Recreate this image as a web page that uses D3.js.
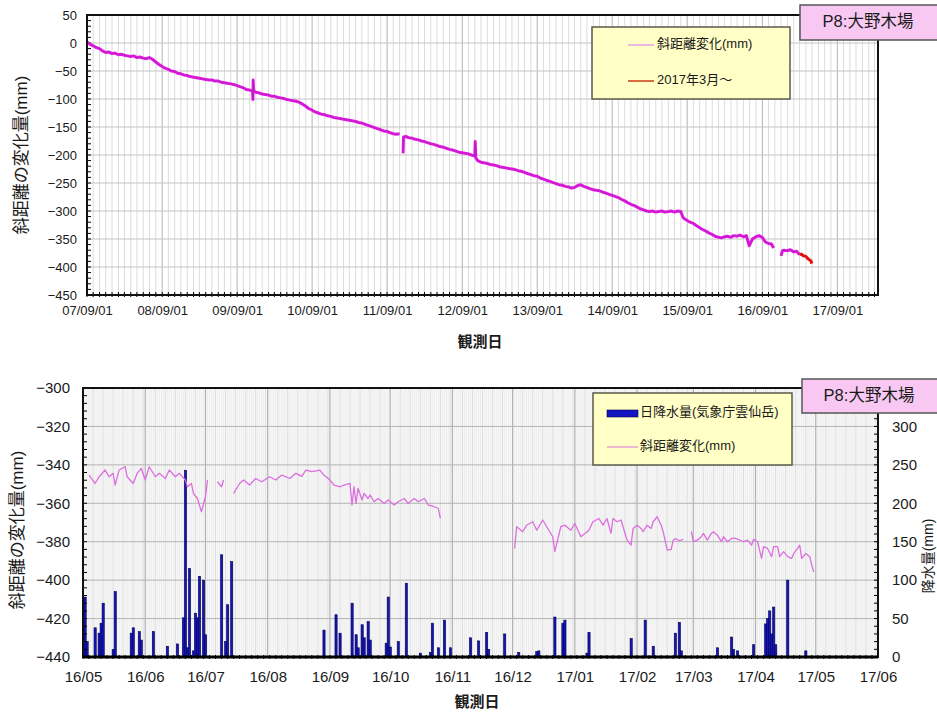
<!DOCTYPE html>
<html><head><meta charset="utf-8">
<script src="https://cdn.jsdelivr.net/npm/d3@7"></script>
<style>
body{margin:0;background:#fff}
text{font-family:"Liberation Sans","Noto Sans CJK JP",sans-serif;fill:#1a1a1a}
</style>
</head><body>
<svg id="c" width="937" height="713"></svg>
<script>
// ---------------- DATA ----------------
const topTickLabels = ["2007-09-01","2008-09-01","2009-09-01","2010-09-01","2011-09-01","2012-09-01","2013-09-01","2014-09-01","2015-09-01","2016-09-01","2017-09-01"];
const topYTicks = [50,0,-50,-100,-150,-200,-250,-300,-350,-400,-450];
// 斜距離変化(mm) long-term record
const topSeries = [
["2007-09-01",2],["2007-09-15",-2],["2007-10-01",-5],["2007-10-15",-8],["2007-11-01",-10],["2007-11-15",-14],["2007-12-01",-17],["2007-12-15",-16],
["2008-01-01",-19],["2008-01-15",-18],["2008-02-01",-21],["2008-02-15",-20],["2008-03-01",-22],["2008-03-15",-23],["2008-04-01",-24],["2008-04-15",-23],
["2008-05-01",-26],["2008-05-15",-25],["2008-06-01",-27],["2008-06-15",-28],["2008-07-01",-26],["2008-07-15",-29],["2008-08-01",-34],["2008-08-15",-38],
["2008-09-01",-42],["2008-09-15",-45],["2008-10-01",-47],["2008-10-15",-50],["2008-11-01",-51],["2008-11-15",-54],["2008-12-01",-55],["2008-12-15",-57],
["2009-01-01",-58],["2009-01-15",-60],["2009-02-01",-61],["2009-02-15",-62],["2009-03-01",-63],["2009-03-15",-64],["2009-04-01",-65],["2009-04-15",-66],
["2009-05-01",-66],["2009-05-15",-68],["2009-06-01",-68],["2009-06-15",-70],["2009-07-01",-71],["2009-07-15",-72],["2009-08-01",-73],["2009-08-15",-74],
["2009-09-01",-76],["2009-09-15",-78],["2009-10-01",-80],["2009-10-15",-83],["2009-11-01",-84],["2009-11-15",-86],["2009-11-17",-101],["2009-11-18",-66],["2009-11-20",-85],
["2009-12-01",-88],["2009-12-15",-89],["2010-01-01",-91],["2010-01-15",-92],["2010-02-01",-93],["2010-02-15",-95],["2010-03-01",-95],["2010-03-15",-97],
["2010-04-01",-98],["2010-04-15",-99],["2010-05-01",-101],["2010-05-15",-102],["2010-06-01",-103],["2010-06-15",-104],["2010-07-01",-106],["2010-07-15",-109],
["2010-08-01",-113],["2010-08-15",-117],["2010-09-01",-120],["2010-09-15",-123],["2010-10-01",-125],["2010-10-15",-127],["2010-11-01",-128],["2010-11-15",-130],
["2010-12-01",-131],["2010-12-15",-133],["2011-01-01",-134],["2011-01-15",-135],["2011-02-01",-136],["2011-02-15",-137],["2011-03-01",-138],["2011-03-15",-139],
["2011-04-01",-140],["2011-04-15",-142],["2011-05-01",-143],["2011-05-15",-145],["2011-06-01",-147],["2011-06-15",-149],["2011-07-01",-151],["2011-07-15",-153],
["2011-08-01",-155],["2011-08-15",-157],["2011-09-01",-158],["2011-09-15",-160],["2011-10-01",-162],["2011-10-15",-163],["2011-11-01",-162],["2011-11-08",null],
["2011-11-18",-197],["2011-11-20",-168],["2011-12-01",-167],["2011-12-15",-169],
["2012-01-01",-170],["2012-01-15",-172],["2012-02-01",-173],["2012-02-15",-175],["2012-03-01",-176],["2012-03-15",-178],["2012-04-01",-180],["2012-04-15",-181],
["2012-05-01",-183],["2012-05-15",-185],["2012-06-01",-186],["2012-06-15",-188],["2012-07-01",-190],["2012-07-15",-191],["2012-08-01",-193],["2012-08-15",-195],
["2012-09-01",-196],["2012-09-15",-197],["2012-10-01",-198],["2012-10-15",-200],["2012-11-01",-202],["2012-11-03",-176],["2012-11-06",-205],["2012-11-15",-210],
["2012-12-01",-213],["2012-12-15",-214],["2013-01-01",-215],["2013-01-15",-217],["2013-02-01",-218],["2013-02-15",-219],["2013-03-01",-221],["2013-03-15",-222],
["2013-04-01",-223],["2013-04-15",-224],["2013-05-01",-225],["2013-05-15",-226],["2013-06-01",-228],["2013-06-15",-229],["2013-07-01",-231],["2013-07-15",-233],
["2013-08-01",-235],["2013-08-15",-237],["2013-09-01",-238],["2013-09-15",-241],["2013-10-01",-243],["2013-10-15",-245],["2013-11-01",-247],["2013-11-15",-249],
["2013-12-01",-251],["2013-12-15",-253],["2014-01-01",-254],["2014-01-15",-256],["2014-02-01",-257],["2014-02-15",-259],["2014-03-01",-258],["2014-03-15",-255],
["2014-04-01",-253],["2014-04-15",-256],["2014-05-01",-258],["2014-05-15",-260],["2014-06-01",-262],["2014-06-15",-263],["2014-07-01",-264],["2014-07-15",-266],
["2014-08-01",-268],["2014-08-15",-270],["2014-09-01",-272],["2014-09-15",-274],["2014-10-01",-276],["2014-10-15",-279],["2014-11-01",-282],["2014-11-15",-285],
["2014-12-01",-288],["2014-12-15",-290],["2015-01-01",-293],["2015-01-15",-296],["2015-02-01",-298],["2015-02-15",-300],["2015-03-01",-301],["2015-03-15",-300],
["2015-04-01",-302],["2015-04-15",-301],["2015-05-01",-300],["2015-05-15",-302],["2015-06-01",-301],["2015-06-15",-300],["2015-07-01",-302],["2015-07-15",-300],
["2015-08-01",-301],["2015-08-10",-310],["2015-08-15",-313],["2015-09-01",-317],["2015-09-15",-320],["2015-10-01",-322],["2015-10-15",-326],["2015-11-01",-330],
["2015-11-15",-333],["2015-12-01",-336],["2015-12-15",-339],["2016-01-01",-342],["2016-01-15",-345],["2016-02-01",-347],["2016-02-15",-348],["2016-03-01",-346],
["2016-03-15",-345],["2016-04-01",-347],["2016-04-15",-344],["2016-05-01",-345],["2016-05-15",-343],["2016-06-01",-346],["2016-06-15",-344],["2016-06-29",-362],
["2016-07-15",-350],["2016-08-01",-346],["2016-08-15",-344],["2016-09-01",-347],["2016-09-15",-355],["2016-10-01",-358],["2016-10-15",-359],["2016-10-26",-366],
["2016-11-10",null],["2016-12-01",-380],["2016-12-08",-371],["2016-12-15",-370],["2017-01-01",-371],["2017-01-15",-369],["2017-02-01",-373],["2017-02-15",-372],["2017-03-01",-378]
];
// 2017年3月～
const topSeries2017 = [["2017-03-01",-378],["2017-03-10",-377],["2017-03-20",-380],["2017-04-01",-381],["2017-04-10",-385],["2017-04-18",-387],["2017-04-25",-389],["2017-04-30",-394]];

const botTickLabels = ["2016-05-01","2016-06-01","2016-07-01","2016-08-01","2016-09-01","2016-10-01","2016-11-01","2016-12-01","2017-01-01","2017-02-01","2017-03-01","2017-04-01","2017-05-01","2017-06-01"];
const botLeftTicks = [-300,-320,-340,-360,-380,-400,-420,-440];
const botRightTicks = [0,50,100,150,200,250,300];
// 日降水量(気象庁雲仙岳) mm
const rainfall = [
["2016-05-02",78],["2016-05-03",20],["2016-05-07",38],["2016-05-09",31],["2016-05-10",44],["2016-05-11",70],["2016-05-16",10],["2016-05-17",85],
["2016-05-25",31],["2016-05-26",38],["2016-05-29",33],["2016-05-30",22],["2016-06-05",33],["2016-06-12",14],["2016-06-17",17],["2016-06-20",51],
["2016-06-21",243],["2016-06-22",12],["2016-06-23",115],["2016-06-25",8],["2016-06-26",57],["2016-06-27",51],["2016-06-28",105],["2016-06-30",100],
["2016-07-01",29],["2016-07-09",133],["2016-07-11",20],["2016-07-12",68],["2016-07-14",124],
["2016-08-29",35],["2016-09-04",55],["2016-09-06",31],["2016-09-12",70],["2016-09-14",29],["2016-09-15",12],["2016-09-17",42],["2016-09-18",25],
["2016-09-20",46],["2016-09-21",22],["2016-09-29",18],["2016-09-30",78],["2016-10-01",13],["2016-10-05",20],["2016-10-09",96],["2016-10-16",5],
["2016-10-21",6],["2016-10-22",44],["2016-10-25",12],["2016-10-28",48],["2016-10-31",12],["2016-11-10",25],["2016-11-14",21],["2016-11-18",32],
["2016-11-19",10],["2016-11-27",30],["2016-12-04",6],["2016-12-13",7],["2016-12-14",8],["2016-12-22",52],["2016-12-26",44],["2016-12-27",48],
["2017-01-07",5],["2017-01-08",32],["2017-01-29",24],["2017-02-05",48],["2017-02-09",14],["2017-02-20",31],["2017-02-22",45],["2017-02-23",8],
["2017-03-13",12],["2017-03-20",26],["2017-03-21",10],["2017-03-23",8],["2017-03-31",16],["2017-04-06",43],["2017-04-07",50],["2017-04-08",60],
["2017-04-09",30],["2017-04-10",65],["2017-04-11",16],["2017-04-17",100],["2017-04-26",8]
];
// 斜距離変化(mm) 2016/05 - 2017/05
const botSeries = [
["2016-05-04",-345.3],["2016-05-07",-349.7],["2016-05-09",-346.2],["2016-05-12",-342.7],["2016-05-14",-346.2],["2016-05-16",-344.4],["2016-05-17",-350.5],
["2016-05-19",-342.7],["2016-05-22",-341.0],["2016-05-23",-346.2],["2016-05-26",-349.7],["2016-05-28",-344.4],["2016-05-30",-341.8],["2016-06-01",-347.9],
["2016-06-03",-341.0],["2016-06-06",-346.2],["2016-06-08",-344.4],["2016-06-11",-347.1],["2016-06-13",-342.7],["2016-06-16",-346.2],["2016-06-18",-344.4],
["2016-06-21",-347.9],["2016-06-22",-351.4],["2016-06-24",-349.7],["2016-06-25",-354.9],["2016-06-27",-357.5],["2016-06-29",-364.4],["2016-07-01",-356.6],
["2016-07-02",-347.9],["2016-07-04",null],["2016-07-07",-348.8],["2016-07-09",-351.4],["2016-07-10",-347.9],["2016-07-12",null],
["2016-07-15",-354.9],["2016-07-18",-349.7],["2016-07-20",-347.9],["2016-07-23",-350.5],["2016-07-26",-347.1],["2016-07-29",-348.8],["2016-08-02",-346.2],
["2016-08-05",-347.9],["2016-08-08",-345.3],["2016-08-12",-347.1],["2016-08-15",-344.4],["2016-08-18",-346.0],["2016-08-20",-342.7],["2016-08-23",-343.5],
["2016-08-27",-342.7],["2016-08-29",-345.3],["2016-09-01",-347.9],["2016-09-03",-350.5],["2016-09-06",-351.4],["2016-09-08",-350.5],["2016-09-11",-349.7],
["2016-09-12",-360.9],["2016-09-13",-351.4],["2016-09-14",-360.1],["2016-09-15",-352.2],["2016-09-17",-358.3],["2016-09-18",-354.9],["2016-09-20",-357.5],
["2016-09-21",-355.7],["2016-09-23",-359.2],["2016-09-25",-357.5],["2016-09-28",-360.1],["2016-09-30",-358.3],["2016-10-03",-360.9],["2016-10-05",-359.2],
["2016-10-08",-357.5],["2016-10-10",-360.1],["2016-10-13",-357.5],["2016-10-15",-359.2],["2016-10-18",-357.5],["2016-10-20",-360.9],["2016-10-23",-361.8],
["2016-10-25",-362.7],["2016-10-26",-367.9],["2016-11-10",null],
["2016-12-02",-383.5],["2016-12-03",-372.2],["2016-12-06",-374.8],["2016-12-08",-371.4],["2016-12-11",-369.6],["2016-12-13",-374.0],["2016-12-16",-368.7],
["2016-12-18",-372.2],["2016-12-21",-377.4],["2016-12-22",-385.2],["2016-12-25",-372.2],["2016-12-27",-371.4],["2016-12-30",-374.0],["2017-01-01",-370.5],
["2017-01-04",-377.4],["2017-01-06",-375.7],["2017-01-08",-374.0],["2017-01-10",-369.6],["2017-01-13",-367.9],["2017-01-15",-371.4],["2017-01-17",-367.9],
["2017-01-19",-375.7],["2017-01-20",-367.9],["2017-01-22",-369.6],["2017-01-24",-368.7],["2017-01-25",-372.2],["2017-01-27",-379.2],["2017-01-29",-381.8],
["2017-01-30",-373.1],["2017-02-01",-371.4],["2017-02-03",-373.1],["2017-02-04",-374.8],["2017-02-06",-371.4],["2017-02-08",-373.1],["2017-02-09",-369.6],
["2017-02-11",-367.0],["2017-02-13",-371.4],["2017-02-14",-374.8],["2017-02-16",-384.4],["2017-02-18",-384.0],["2017-02-19",-379.2],["2017-02-20",-378.3],
["2017-02-22",-379.5],["2017-02-24",-378.8],["2017-02-26",null],["2017-02-28",-374.8],["2017-03-01",-380.0],["2017-03-03",-379.2],["2017-03-05",-377.4],
["2017-03-06",-375.7],["2017-03-08",-379.2],["2017-03-10",-375.7],["2017-03-11",-374.8],["2017-03-13",-376.6],["2017-03-15",-380.0],["2017-03-16",-377.4],
["2017-03-18",-380.0],["2017-03-20",-378.3],["2017-03-22",-378.3],["2017-03-25",-379.5],["2017-03-26",-380.0],["2017-03-28",-379.2],["2017-03-30",-381.8],
["2017-03-31",-378.8],["2017-04-02",-380.0],["2017-04-04",-388.7],["2017-04-05",-382.6],["2017-04-07",-383.5],["2017-04-09",-387.8],["2017-04-10",-382.6],
["2017-04-12",-382.6],["2017-04-13",-387.8],["2017-04-15",-385.2],["2017-04-17",-387.8],["2017-04-19",-388.7],["2017-04-20",-386.1],["2017-04-22",-383.5],
["2017-04-23",-381.8],["2017-04-24",-388.7],["2017-04-26",-386.1],["2017-04-28",-387.8],["2017-04-29",-392.2],["2017-04-30",-395.7]
];

// ---------------- DRAW ----------------
const parse = d3.timeParse("%Y-%m-%d");
const svg = d3.select("#c");
const FONT = '"Liberation Sans","Noto Sans CJK JP",sans-serif';

// ===== TOP CHART =====
const T = {l:87, r:878, t:15, b:295};
const xT = d3.scaleTime().domain([parse("2007-09-01"), parse("2018-03-18")]).range([T.l, T.r]);
const yT = d3.scaleLinear().domain([-450, 50]).range([T.b, T.t]);
const gT = svg.append("g");
gT.append("rect").attr("x",T.l).attr("y",T.t).attr("width",T.r-T.l).attr("height",T.b-T.t).attr("fill","#fff");
gT.selectAll("line.vm").data(d3.timeMonth.range(xT.domain()[0], xT.domain()[1]))
  .join("line").attr("x1",d=>xT(d)).attr("x2",d=>xT(d)).attr("y1",T.t).attr("y2",T.b)
  .attr("stroke",d=>d.getMonth()===8?"#b4b4b4":"#dcdcdc").attr("stroke-width",1);
gT.selectAll("line.hg").data(topYTicks).join("line")
  .attr("x1",T.l).attr("x2",T.r).attr("y1",d=>yT(d)).attr("y2",d=>yT(d))
  .attr("stroke","#c4c4c4").attr("stroke-width",1);
gT.selectAll("line.my").data(d3.range(-450,51,10)).join("line")
  .attr("x1",T.l).attr("x2",T.l+4).attr("y1",d=>yT(d)).attr("y2",d=>yT(d)).attr("stroke","#000");
gT.selectAll("line.mx").data(d3.timeMonth.range(xT.domain()[0], xT.domain()[1])).join("line")
  .attr("x1",d=>xT(d)).attr("x2",d=>xT(d)).attr("y1",T.b-3).attr("y2",T.b+2).attr("stroke","#000");
const lineT = d3.line().defined(d=>d[1]!==null).x(d=>xT(parse(d[0]))).y(d=>yT(d[1]));
gT.append("path").attr("d",lineT(topSeries)).attr("fill","none").attr("stroke","#e418e4").attr("stroke-width",3).attr("stroke-linejoin","round");
gT.append("path").attr("d",lineT(topSeries)).attr("fill","none").attr("stroke","#8a2a9a").attr("stroke-width",0.8).attr("opacity",0.55);
gT.append("path").attr("d",lineT(topSeries2017)).attr("fill","none").attr("stroke","#e01010").attr("stroke-width",3).attr("stroke-linejoin","round");
gT.append("rect").attr("x",T.l).attr("y",T.t).attr("width",T.r-T.l).attr("height",T.b-T.t).attr("fill","none").attr("stroke","#111").attr("stroke-width",2);
const axTL = gT.append("g").attr("transform",`translate(${T.l},0)`)
  .call(d3.axisLeft(yT).tickValues(topYTicks).tickSize(0).tickPadding(10).tickFormat(d3.format("d")));
axTL.select(".domain").remove();
axTL.selectAll("text").attr("font-size",13).attr("font-family",FONT).attr("fill","#1a1a1a");
const axTB = gT.append("g").attr("transform",`translate(0,${T.b})`)
  .call(d3.axisBottom(xT).tickValues(topTickLabels.map(parse)).tickSize(0).tickPadding(11).tickFormat(d3.timeFormat("%y/%m/%d")));
axTB.select(".domain").remove();
axTB.selectAll("text").attr("font-size",13).attr("font-family",FONT).attr("fill","#1a1a1a");
svg.append("text").attr("transform","translate(23,155) rotate(-90)").attr("text-anchor","middle").attr("dominant-baseline","middle")
  .attr("font-size",17).text("斜距離の変化量(mm)");
svg.append("text").attr("x",480).attr("y",343).attr("text-anchor","middle").attr("dominant-baseline","middle")
  .attr("font-size",15).attr("font-weight","bold").text("観測日");
const lgT = svg.append("g");
lgT.append("rect").attr("x",592).attr("y",27).attr("width",198).attr("height",72).attr("fill","#ffffc6").attr("stroke","#5a5a4a").attr("stroke-width",1.5);
lgT.append("line").attr("x1",628).attr("x2",654).attr("y1",45).attr("y2",45).attr("stroke","#e8a0e8").attr("stroke-width",1.5);
lgT.append("text").attr("x",657).attr("y",45).attr("dominant-baseline","middle").attr("font-size",13).attr("fill","#333").text("斜距離変化(mm)");
lgT.append("line").attr("x1",628).attr("x2",654).attr("y1",81).attr("y2",81).attr("stroke","#c83c14").attr("stroke-width",1.5);
lgT.append("text").attr("x",657).attr("y",81).attr("dominant-baseline","middle").attr("font-size",13).attr("fill","#222").text("2017年3月～");
svg.append("rect").attr("x",800).attr("y",5).attr("width",140).attr("height",35).attr("fill","#f8c8f2").attr("stroke","#555").attr("stroke-width",1.5);
svg.append("text").attr("x",868).attr("y",23).attr("text-anchor","middle").attr("dominant-baseline","middle").attr("font-size",16.5).attr("fill","#222").text("P8:大野木場");

// ===== BOTTOM CHART =====
const B = {l:83, r:878, t:388, b:657};
const xB = d3.scaleTime().domain([parse("2016-05-01"), parse("2017-06-01")]).range([B.l, B.r]);
const yB = d3.scaleLinear().domain([-440, -300]).range([B.b, B.t]);
const yR = d3.scaleLinear().domain([0, 350]).range([B.b, B.t]);
const gB = svg.append("g");
gB.append("rect").attr("x",B.l).attr("y",B.t).attr("width",B.r-B.l).attr("height",B.b-B.t).attr("fill","#f8f8f8");
gB.selectAll("line.vd").data(d3.timeDay.range(xB.domain()[0], xB.domain()[1]))
  .join("line").attr("x1",d=>xB(d)).attr("x2",d=>xB(d)).attr("y1",B.t).attr("y2",B.b)
  .attr("stroke",d=>d.getDate()===1?"#b0b0b0":(d.getDate()%5===1?"#d6d6d6":"#ebebeb")).attr("stroke-width",d=>d.getDate()===1?1.2:0.8);
gB.selectAll("line.hg").data(botLeftTicks).join("line")
  .attr("x1",B.l).attr("x2",B.r).attr("y1",d=>yB(d)).attr("y2",d=>yB(d)).attr("stroke","#b4b4b4").attr("stroke-width",1);
gB.selectAll("rect.rain").data(rainfall).join("rect")
  .attr("x",d=>xB(parse(d[0]))-1).attr("width",2.2)
  .attr("y",d=>yR(d[1])).attr("height",d=>B.b-yR(d[1]))
  .attr("fill","#1414b8").attr("stroke","#000050").attr("stroke-width",0.6);
const lineB = d3.line().defined(d=>d[1]!==null).x(d=>xB(parse(d[0]))).y(d=>yB(d[1]));
gB.append("path").attr("d",lineB(botSeries)).attr("fill","none").attr("stroke","#dc6ee0").attr("stroke-width",1.3).attr("stroke-linejoin","round");
gB.selectAll("line.ml").data(d3.range(-440,-299,4)).join("line")
  .attr("x1",B.l).attr("x2",B.l+4).attr("y1",d=>yB(d)).attr("y2",d=>yB(d)).attr("stroke","#000");
gB.selectAll("line.mr").data(d3.range(0,351,10)).join("line")
  .attr("x1",B.r-4).attr("x2",B.r).attr("y1",d=>yR(d)).attr("y2",d=>yR(d)).attr("stroke","#000");
gB.selectAll("line.mx").data(d3.timeDay.range(xB.domain()[0], xB.domain()[1], 3)).join("line")
  .attr("x1",d=>xB(d)).attr("x2",d=>xB(d)).attr("y1",B.b-2).attr("y2",B.b+2).attr("stroke","#000");
gB.append("rect").attr("x",B.l).attr("y",B.t).attr("width",B.r-B.l).attr("height",B.b-B.t).attr("fill","none").attr("stroke","#111").attr("stroke-width",2);
gB.append("line").attr("x1",B.l).attr("x2",B.r).attr("y1",B.b).attr("y2",B.b).attr("stroke","#000").attr("stroke-width",3);
const axBL = gB.append("g").attr("transform",`translate(${B.l},0)`)
  .call(d3.axisLeft(yB).tickValues(botLeftTicks).tickSize(0).tickPadding(13));
axBL.select(".domain").remove();
axBL.selectAll("text").attr("font-size",15).attr("font-family",FONT).attr("fill","#1a1a1a");
const axBR = gB.append("g").attr("transform",`translate(${B.r},0)`)
  .call(d3.axisRight(yR).tickValues(botRightTicks).tickSize(0).tickPadding(14));
axBR.select(".domain").remove();
axBR.selectAll("text").attr("font-size",15).attr("font-family",FONT).attr("fill","#1a1a1a");
const axBB = gB.append("g").attr("transform",`translate(0,${B.b})`)
  .call(d3.axisBottom(xB).tickValues(botTickLabels.map(parse)).tickSize(0).tickPadding(14).tickFormat(d3.timeFormat("%y/%m")));
axBB.select(".domain").remove();
axBB.selectAll("text").attr("font-size",15).attr("font-family",FONT).attr("fill","#1a1a1a");
svg.append("text").attr("transform","translate(19,530) rotate(-90)").attr("text-anchor","middle").attr("dominant-baseline","middle")
  .attr("font-size",17).text("斜距離の変化量(mm)");
svg.append("text").attr("transform","translate(929,556) rotate(-90)").attr("text-anchor","middle").attr("dominant-baseline","middle")
  .attr("font-size",14).text("降水量(mm)");
svg.append("text").attr("x",477).attr("y",703).attr("text-anchor","middle").attr("dominant-baseline","middle")
  .attr("font-size",15).attr("font-weight","bold").text("観測日");
const lgB = svg.append("g");
lgB.append("rect").attr("x",593).attr("y",393).attr("width",199).attr("height",72).attr("fill","#ffffc6").attr("stroke","#5a5a4a").attr("stroke-width",1.5);
lgB.append("rect").attr("x",607).attr("y",410).attr("width",31).attr("height",7).attr("fill","#1414c0").attr("stroke","#00005a").attr("stroke-width",0.6);
lgB.append("text").attr("x",640).attr("y",413).attr("dominant-baseline","middle").attr("font-size",13).attr("fill","#444").text("日降水量(気象庁雲仙岳)");
lgB.append("line").attr("x1",607).attr("x2",638).attr("y1",447).attr("y2",447).attr("stroke","#dc8ad8").attr("stroke-width",1.2);
lgB.append("text").attr("x",640).attr("y",447).attr("dominant-baseline","middle").attr("font-size",13).attr("fill","#444").text("斜距離変化(mm)");
svg.append("rect").attr("x",802).attr("y",379).attr("width",140).attr("height",34).attr("fill","#f8c8f2").attr("stroke","#555").attr("stroke-width",1.5);
svg.append("text").attr("x",869).attr("y",397).attr("text-anchor","middle").attr("dominant-baseline","middle").attr("font-size",16.5).attr("fill","#222").text("P8:大野木場");
</script>
</body></html>
